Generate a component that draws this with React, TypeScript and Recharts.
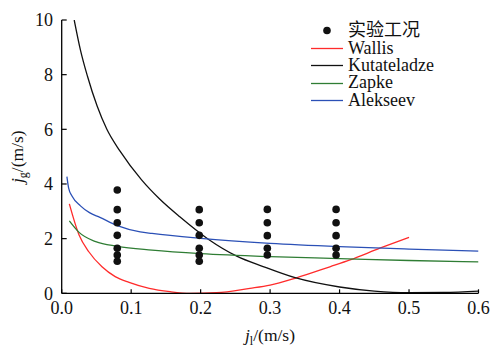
import React from 'react';
import { ComposedChart, Line, Scatter, XAxis, YAxis, Legend } from 'recharts';

// Experimental points (实验工况)
const expX = [0.08, 0.198, 0.296, 0.395];
const expY0 = [3.78, 3.06, 2.58, 2.12, 1.65, 1.4, 1.17];
const expY1 = [3.06, 2.58, 2.12, 1.65, 1.4, 1.17];
const expY2 = [3.07, 2.58, 2.11, 1.65, 1.4];
const expY3 = [3.07, 2.58, 2.11, 1.65, 1.4];

// Wallis
const wallisX = [0.011, 0.025, 0.039, 0.058, 0.077, 0.097, 0.126, 0.156, 0.185, 0.223, 0.271, 0.3, 0.336, 0.386, 0.415, 0.458, 0.5];
const wallisY = [3.27, 2.13, 1.52, 0.97, 0.61, 0.4, 0.18, 0.06, 0.0, 0.02, 0.18, 0.3, 0.55, 0.97, 1.22, 1.65, 2.05];

// Kutateladze
const kutX = [0.018, 0.027, 0.037, 0.051, 0.065, 0.084, 0.115, 0.141, 0.17, 0.211, 0.252, 0.29, 0.336, 0.4, 0.45, 0.5, 0.55, 0.6];
const kutY = [10, 8.9, 7.95, 6.85, 6.0, 5.2, 4.15, 3.45, 2.8, 1.98, 1.36, 0.98, 0.57, 0.23, 0.08, 0.02, 0.03, 0.08];

// Zapke
const zapX = [0.011, 0.025, 0.049, 0.08, 0.13, 0.2, 0.3, 0.4, 0.5, 0.6];
const zapY = [2.65, 2.23, 1.89, 1.72, 1.58, 1.45, 1.34, 1.27, 1.2, 1.15];

// Alekseev
const aleX = [0.0075, 0.01, 0.015, 0.027, 0.04, 0.055, 0.08, 0.113, 0.13, 0.2, 0.3, 0.4, 0.5, 0.6];
const aleY = [4.27, 3.85, 3.55, 3.2, 2.95, 2.78, 2.48, 2.25, 2.19, 2.01, 1.83, 1.71, 1.62, 1.54];

const xTicks = [0, 0.1, 0.2, 0.3, 0.4, 0.5, 0.6];
const yTicks = [0, 2, 4, 6, 8, 10];

const zip = (xs: number[], ys: number[]) => xs.map((x, i) => ({ x, y: ys[i] }));

const expData = [expY0, expY1, expY2, expY3].flatMap((col, i) => col.map((y) => ({ x: expX[i], y })));
const wallisData = zip(wallisX, wallisY);
const kutData = zip(kutX, kutY);
const zapData = zip(zapX, zapY);
const aleData = zip(aleX, aleY);

const FONT = "'Liberation Serif', Tinos, 'Times New Roman', 'DejaVu Serif', serif";
const RED = '#ff2b2b';
const BLACK = '#111111';
const GREEN = '#2f7d34';
const BLUE = '#2b50b6';

const legendItems = [
  { name: '实验工况', type: 'dot', color: BLACK },
  { name: 'Wallis', type: 'line', color: RED },
  { name: 'Kutateladze', type: 'line', color: BLACK },
  { name: 'Zapke', type: 'line', color: GREEN },
  { name: 'Alekseev', type: 'line', color: BLUE },
];

const renderLegend = () => (
  <div style={{ fontFamily: "'Liberation Serif', Tinos, 'Times New Roman', 'Noto Sans CJK SC', serif", fontSize: 18, color: '#111' }}>
    {legendItems.map((it) => (
      <div key={it.name} style={{ display: 'flex', alignItems: 'center', height: 17.4 }}>
        <svg width={32} height={17} style={{ flex: 'none' }}>
          {it.type === 'dot' ? (
            <circle cx={16} cy={8.5} r={3.8} fill={it.color} />
          ) : (
            <line x1={0} y1={8.5} x2={32} y2={8.5} stroke={it.color} strokeWidth={1.3} />
          )}
        </svg>
        <span style={{ marginLeft: 5, whiteSpace: 'nowrap', display: 'inline-block', height: 17.4, lineHeight: '17.4px', overflow: 'visible' }}>{it.name}</span>
      </div>
    ))}
  </div>
);

const XLabel = () => (
  <text x={270} y={341} textAnchor="middle" style={{ fontFamily: FONT }} fontSize={17.5} fill="#111">
    <tspan fontStyle="italic">j</tspan>
    <tspan fontSize={12} dy={4}>l</tspan>
    <tspan dy={-4}>/(m/s)</tspan>
  </text>
);

const YLabel = () => (
  <text x={23} y={156.7} transform="rotate(-90, 23, 156.7)" textAnchor="middle" style={{ fontFamily: FONT }} fontSize={17.5} fill="#111">
    <tspan fontStyle="italic">j</tspan>
    <tspan fontSize={12} dy={4}>g</tspan>
    <tspan dy={-4}>/(m/s)</tspan>
  </text>
);

const Dot = (props: any) => <circle cx={props.cx} cy={props.cy} r={3.8} fill={BLACK} />;

export default function App() {
  return (
    <div style={{ position: 'absolute', left: 0, top: 0, background: '#fff', fontFamily: FONT }}>
      <ComposedChart
        width={492}
        height={347}
        margin={{ top: 20, right: 13.5, bottom: 23.7, left: 0 }}
        style={{ fontFamily: FONT }}
      >
        <XAxis
          dataKey="x"
          type="number"
          domain={[0, 0.6]}
          ticks={xTicks}
          tickFormatter={(v: number) => v.toFixed(1)}
          allowDataOverflow
          height={30}
          axisLine={{ stroke: '#000', strokeWidth: 1.3 }}
          tickLine={{ stroke: '#000', strokeWidth: 1.2 }}
          tickSize={-4}
          tickMargin={12.4}
          tick={{ style: { fontFamily: FONT }, fontSize: 18, fill: '#111' }}
          label={<XLabel />}
        />
        <YAxis
          dataKey="y"
          type="number"
          domain={[0, 10]}
          ticks={yTicks}
          allowDataOverflow
          width={61.7}
          axisLine={{ stroke: '#000', strokeWidth: 1.3 }}
          tickLine={{ stroke: '#000', strokeWidth: 1.2 }}
          tickSize={-5}
          tickMargin={13.7}
          tick={{ style: { fontFamily: FONT }, fontSize: 18, fill: '#111' }}
          label={<YLabel />}
        />
        <Legend
          layout="vertical"
          align="center"
          verticalAlign="middle"
          content={renderLegend}
          wrapperStyle={{ left: 311, top: 22.3, width: 180, height: 90 }}
        />
        <Line data={wallisData} dataKey="y" type="monotone" stroke={RED} strokeWidth={1.3} dot={false} isAnimationActive={false} name="Wallis" />
        <Line data={kutData} dataKey="y" type="monotone" stroke={BLACK} strokeWidth={1.3} dot={false} isAnimationActive={false} name="Kutateladze" />
        <Line data={zapData} dataKey="y" type="monotone" stroke={GREEN} strokeWidth={1.3} dot={false} isAnimationActive={false} name="Zapke" />
        <Line data={aleData} dataKey="y" type="monotone" stroke={BLUE} strokeWidth={1.3} dot={false} isAnimationActive={false} name="Alekseev" />
        <Scatter data={expData} dataKey="y" shape={<Dot />} isAnimationActive={false} name="实验工况" />
      </ComposedChart>
    </div>
  );
}
